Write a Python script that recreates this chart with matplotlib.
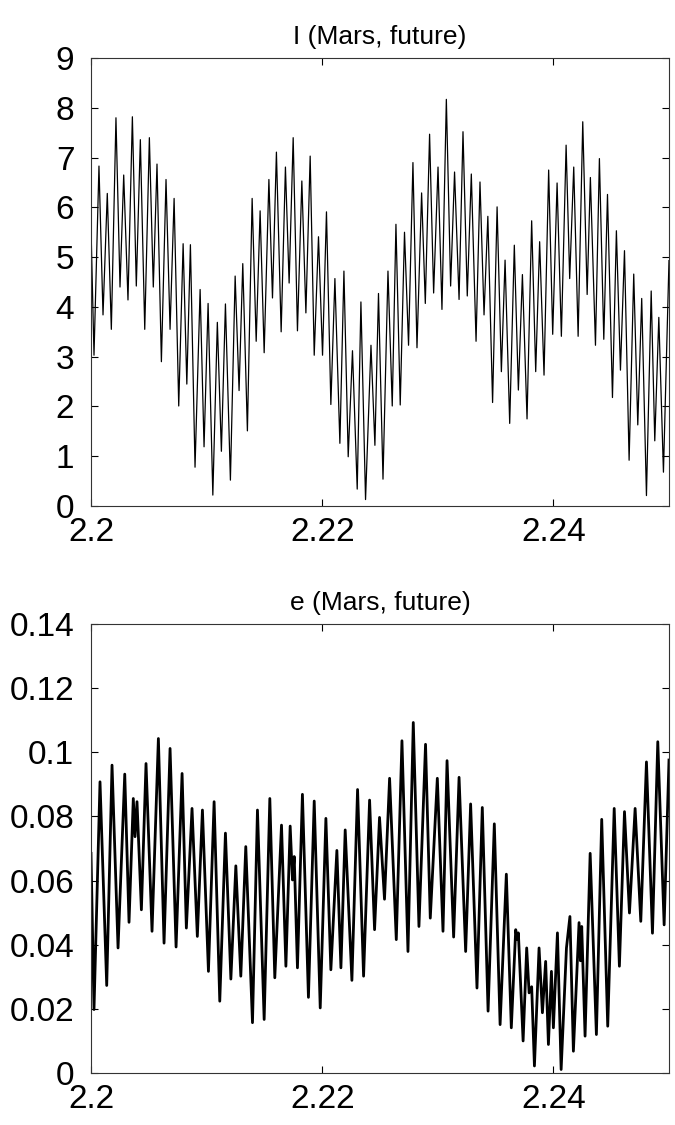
import matplotlib
matplotlib.use("Agg")
import matplotlib.pyplot as plt

plt.rcParams["font.family"] = ["Liberation Sans", "DejaVu Sans"]

# I (Mars, future): turning points
t_inc = [
    2.20000, 2.20026, 2.20069, 2.20104, 2.20141, 2.20176, 2.20216, 2.20251,
    2.20283, 2.20320, 2.20358, 2.20392, 2.20427, 2.20465, 2.20505, 2.20539,
    2.20571, 2.20609, 2.20649, 2.20684, 2.20719, 2.20759, 2.20797, 2.20829,
    2.20860, 2.20900, 2.20944, 2.20978, 2.21013, 2.21054, 2.21093, 2.21128,
    2.21163, 2.21206, 2.21247, 2.21281, 2.21313, 2.21353, 2.21394, 2.21429,
    2.21463, 2.21498, 2.21539, 2.21570, 2.21604, 2.21645, 2.21682, 2.21714,
    2.21749, 2.21786, 2.21824, 2.21859, 2.21896, 2.21931, 2.21968, 2.22003,
    2.22037, 2.22075, 2.22110, 2.22153, 2.22188, 2.22225, 2.22262, 2.22303,
    2.22335, 2.22375, 2.22422, 2.22456, 2.22487, 2.22526, 2.22569, 2.22606,
    2.22638, 2.22675, 2.22712, 2.22747, 2.22785, 2.22820, 2.22860, 2.22892,
    2.22929, 2.22964, 2.23002, 2.23036, 2.23074, 2.23111, 2.23145, 2.23184,
    2.23218, 2.23255, 2.23290, 2.23331, 2.23365, 2.23400, 2.23433, 2.23474,
    2.23513, 2.23550, 2.23582, 2.23622, 2.23662, 2.23697, 2.23732, 2.23772,
    2.23812, 2.23847, 2.23881, 2.23919, 2.23959, 2.23994, 2.24032, 2.24069,
    2.24110, 2.24141, 2.24176, 2.24214, 2.24254, 2.24292, 2.24320, 2.24364,
    2.24398, 2.24436, 2.24468, 2.24511, 2.24545, 2.24580, 2.24615, 2.24655,
    2.24695, 2.24730, 2.24764, 2.24805, 2.24846, 2.24877, 2.24912, 2.24952,
    2.25000,
]
inc = [
    5.61, 3.03, 6.83, 3.84, 6.28, 3.55, 7.80, 4.40,
    6.65, 4.14, 7.82, 4.42, 7.36, 3.55, 7.40, 4.40,
    6.87, 2.90, 6.56, 3.55, 6.18, 2.01, 5.27, 2.45,
    5.25, 0.78, 4.35, 1.19, 4.07, 0.22, 3.69, 1.10,
    4.06, 0.52, 4.62, 2.32, 4.87, 1.51, 6.18, 3.31,
    5.93, 3.08, 6.56, 4.18, 7.11, 3.50, 6.81, 4.48,
    7.40, 3.52, 6.53, 3.88, 7.03, 3.03, 5.41, 3.03,
    5.91, 2.04, 4.57, 1.26, 4.72, 0.99, 3.12, 0.34,
    4.10, 0.13, 3.23, 1.22, 4.27, 0.54, 4.72, 2.01,
    5.66, 2.03, 5.50, 3.23, 6.90, 3.18, 6.29, 4.07,
    7.47, 4.28, 6.81, 3.95, 8.17, 4.42, 6.71, 4.15,
    7.52, 4.22, 6.67, 3.31, 6.51, 3.84, 5.82, 2.08,
    6.01, 2.70, 4.94, 1.66, 5.24, 2.33, 4.65, 1.75,
    5.73, 2.70, 5.31, 2.63, 6.75, 3.45, 6.49, 3.41,
    7.25, 4.57, 6.81, 3.41, 7.72, 4.25, 6.60, 3.23,
    6.98, 3.35, 6.26, 2.18, 5.53, 2.73, 5.13, 0.92,
    4.66, 1.63, 4.17, 0.21, 4.32, 1.31, 3.79, 0.68,
    4.93,
]

# e (Mars, future)
t_ecc = [
    2.20000, 2.20026, 2.20078, 2.20136, 2.20182, 2.20234, 2.20292, 2.20329,
    2.20366, 2.20381, 2.20398, 2.20436, 2.20476, 2.20528, 2.20583, 2.20632,
    2.20684, 2.20736, 2.20788, 2.20825, 2.20874, 2.20920, 2.20964, 2.21016,
    2.21065, 2.21114, 2.21163, 2.21210, 2.21253, 2.21296, 2.21339, 2.21397,
    2.21440, 2.21498, 2.21547, 2.21590, 2.21648, 2.21686, 2.21723, 2.21743,
    2.21758, 2.21786, 2.21829, 2.21881, 2.21931, 2.21983, 2.22032, 2.22075,
    2.22127, 2.22162, 2.22199, 2.22257, 2.22306, 2.22358, 2.22410, 2.22453,
    2.22496, 2.22539, 2.22583, 2.22641, 2.22690, 2.22742, 2.22788, 2.22837,
    2.22894, 2.22935, 2.22996, 2.23045, 2.23080, 2.23137, 2.23184, 2.23241,
    2.23284, 2.23339, 2.23385, 2.23435, 2.23489, 2.23539, 2.23593, 2.23636,
    2.23674, 2.23688, 2.23697, 2.23738, 2.23769, 2.23790, 2.23812, 2.23836,
    2.23876, 2.23905, 2.23933, 2.23957, 2.23983, 2.24000, 2.24035, 2.24067,
    2.24113, 2.24143, 2.24173, 2.24222, 2.24234, 2.24245, 2.24274, 2.24318,
    2.24372, 2.24418, 2.24470, 2.24526, 2.24571, 2.24615, 2.24658, 2.24707,
    2.24756, 2.24805, 2.24857, 2.24903, 2.24958, 2.25000,
]
ecc = [
    0.0685, 0.0198, 0.0908, 0.0273, 0.0960, 0.0390, 0.0932, 0.0470,
    0.0856, 0.0737, 0.0846, 0.0509, 0.0965, 0.0442, 0.1043, 0.0405,
    0.1012, 0.0393, 0.0934, 0.0452, 0.0825, 0.0426, 0.0820, 0.0317,
    0.0846, 0.0224, 0.0748, 0.0293, 0.0646, 0.0302, 0.0706, 0.0157,
    0.0820, 0.0167, 0.0856, 0.0297, 0.0773, 0.0333, 0.0770, 0.0602,
    0.0675, 0.0328, 0.0869, 0.0236, 0.0848, 0.0203, 0.0794, 0.0322,
    0.0694, 0.0328, 0.0758, 0.0289, 0.0884, 0.0302, 0.0851, 0.0447,
    0.0797, 0.0542, 0.0919, 0.0416, 0.1036, 0.0379, 0.1093, 0.0457,
    0.1025, 0.0483, 0.0919, 0.0442, 0.0974, 0.0424, 0.0922, 0.0379,
    0.0839, 0.0265, 0.0828, 0.0193, 0.0777, 0.0151, 0.0620, 0.0141,
    0.0447, 0.0416, 0.0437, 0.0100, 0.0390, 0.0250, 0.0269, 0.0022,
    0.0390, 0.0188, 0.0348, 0.0089, 0.0317, 0.0141, 0.0437, 0.0011,
    0.0390, 0.0488, 0.0068, 0.0469, 0.0350, 0.0457, 0.0115, 0.0685,
    0.0120, 0.0791, 0.0146, 0.0825, 0.0333, 0.0815, 0.0499, 0.0825,
    0.0473, 0.0970, 0.0436, 0.1033, 0.0462, 0.0976,
]

x_ticks = [2.2, 2.22, 2.24]
x_labels = ["2.2", "2.22", "2.24"]
inc_ticks = list(range(10))
ecc_ticks = [0, 0.02, 0.04, 0.06, 0.08, 0.1, 0.12, 0.14]
ecc_labels = ["0", "0.02", "0.04", "0.06", "0.08", "0.1", "0.12", "0.14"]

fig = plt.figure(figsize=(6.75, 11.25), dpi=100)
ax1 = fig.add_axes([0.1348, 0.5502, 0.8563, 0.3982])
ax2 = fig.add_axes([0.1348, 0.0462, 0.8563, 0.3991])

ax1.plot(t_inc, inc, color="black", lw=0.9)
ax1.set_xlim(2.2, 2.25)
ax1.set_ylim(0, 9)
ax1.set_yticks(inc_ticks)
ax1.set_title("I (Mars, future)", fontsize=19, pad=10)

ax2.plot(t_ecc, ecc, color="black", lw=2.0)
ax2.set_xlim(2.2, 2.25)
ax2.set_ylim(0, 0.14)
ax2.set_yticks(ecc_ticks)
ax2.set_yticklabels(ecc_labels)
ax2.set_title("e (Mars, future)", fontsize=19, pad=10)

for ax in (ax1, ax2):
    ax.set_xticks(x_ticks)
    ax.set_xticklabels(x_labels)
    ax.tick_params(direction="in", length=5, width=0.8, labelsize=24,
                   top=True, right=True)
    ax.tick_params(axis="x", pad=8)
    ax.tick_params(axis="y", pad=12)
    for s in ax.spines.values():
        s.set_linewidth(0.8)
        s.set_color("#333333")

fig.savefig("out.png", dpi=100)
